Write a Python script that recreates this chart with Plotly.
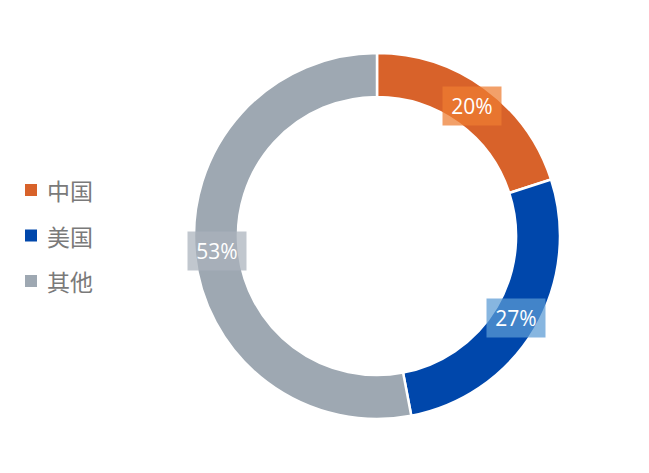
import math
import plotly.graph_objects as go

labels = ["中国", "美国", "其他"]
values = [20, 27, 53]
colors = ["#D8622A", "#0047AB", "#9EA8B2"]
box_colors = ["rgba(237,125,49,0.73)", "rgba(91,155,213,0.73)", "rgba(170,178,188,0.73)"]

# figure sits inside the page body's 8px margin
W, H = 641, 465
cx, cy, R = 369, 228, 183
hole = 0.76

fig = go.Figure(go.Pie(
    labels=labels, values=values, hole=hole, sort=False, direction="clockwise",
    rotation=0, marker=dict(colors=colors, line=dict(color="white", width=2.5)),
    textinfo="none", showlegend=False, hoverinfo="label+percent",
    domain=dict(x=[(cx - R) / W, (cx + R) / W], y=[(H - cy - R) / H, (H - cy + R) / H]),
))

# percentage labels at mid-angle of each slice, mid-ring
total = sum(values)
cum = 0
rmid = R * (1 + hole) / 2
for v, bc in zip(values, box_colors):
    mid = (cum + v / 2) / total * 2 * math.pi
    cum += v
    px = cx + rmid * math.sin(mid)
    py = cy - rmid * math.cos(mid)
    fig.add_annotation(
        x=px / W, y=1 - py / H, xref="paper", yref="paper",
        xanchor="center", yanchor="middle",
        text=f"{round(v / total * 100)}%", showarrow=False,
        font=dict(family="Open Sans, Noto Sans", size=21, color="white"),
        bgcolor=bc, width=46, height=26, borderpad=6,
    )

# legend drawn manually
for i, (lab, col) in enumerate(zip(labels, colors)):
    ly = 182 + i * 45.5
    fig.add_shape(type="rect", xref="paper", yref="paper",
                  x0=17 / W, x1=29 / W, y0=1 - (ly + 6) / H, y1=1 - (ly - 6) / H,
                  fillcolor=col, line=dict(width=0))
    fig.add_annotation(x=37 / W, y=1 - ly / H, xref="paper", yref="paper",
                       xanchor="left", yanchor="middle", showarrow=False,
                       text=lab, font=dict(family="Noto Sans CJK SC", size=23, color="#7A7A7A"))

fig.update_layout(width=W, height=H, margin=dict(l=0, r=0, t=0, b=0),
                  paper_bgcolor="white", plot_bgcolor="white")
fig.write_html("out.html")
